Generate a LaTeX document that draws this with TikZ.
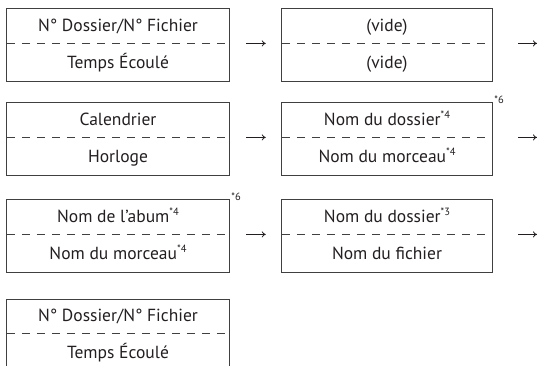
\documentclass[tikz,border=0pt]{standalone}
\usepackage{fontspec}
\setmainfont{PT Sans}
\usetikzlibrary{positioning,arrows.meta}
\definecolor{frame grey}{rgb}{0.25, 0.25, 0.25}
\definecolor{ink}{rgb}{0.1373, 0.1216, 0.1255}
\newcommand{\panelfont}{\fontsize{17.5}{20}\selectfont}
\newcommand{\fnmark}[1]{\raisebox{0.8ex}{\fontsize{10.5}{10}\selectfont *#1}}

\begin{document}
\begin{tikzpicture}[x=1pt, y=-1pt,
		upper/.style={minimum height=34pt, inner sep=0pt, text=ink, font=\panelfont, text height=11.5pt, text depth=0pt},
		lower/.style={upper, minimum height=38pt},
		wide/.style={minimum width=222pt},
		narrow/.style={minimum width=210pt},
		frame/.style={draw=frame grey, line width=1pt},
		divider/.style={draw=frame grey, line width=0.9pt, dash pattern=on 8pt off 7pt},
		nextarrow/.style={draw=ink, line width=0.8pt, -{To[length=4pt, width=6pt]}},
		notemark/.style={inner sep=0pt, text=ink, font=\fontsize{10.5}{10}\selectfont, anchor=west, xshift=2pt, yshift=3pt}]
	\useasboundingbox (0,0) rectangle (538,366);
	\coordinate (edge) at (537,0);
	% row 1
	\node[upper, wide, anchor=north] (num1) at (118,9) {N° Dossier/N° Fichier};
	\node[lower, wide, below=0pt of num1] (time1) {Temps Écoulé};
	\node[upper, narrow, anchor=north] (vide1) at (387,9) {(vide)};
	\node[lower, narrow, below=0pt of vide1] (vide2) {(vide)};
	% row 2
	\node[upper, wide, anchor=north] (cal) at (118,103) {Calendrier};
	\node[lower, wide, below=0pt of cal] (clock) {Horloge};
	\node[upper, narrow, anchor=north] (fold2) at (387,103) {Nom du dossier\fnmark{4}};
	\node[lower, narrow, below=0pt of fold2] (track2) {Nom du morceau\fnmark{4}};
	% row 3
	\node[upper, wide, anchor=north] (album) at (118,200) {Nom de l'abum\fnmark{4}};
	\node[lower, wide, below=0pt of album] (track3) {Nom du morceau\fnmark{4}};
	\node[upper, narrow, anchor=north] (fold3) at (387,200) {Nom du dossier\fnmark{3}};
	\node[lower, narrow, below=0pt of fold3] (file3) {Nom du fichier};
	% row 4
	\node[upper, wide, anchor=north] (num4) at (118,299) {N° Dossier/N° Fichier};
	\node[lower, wide, below=0pt of num4] (time4) {Temps Écoulé};
	% frames and dashed dividers
	\foreach \top/\bot in {num1/time1, vide1/vide2, cal/clock, fold2/track2, album/track3, fold3/file3, num4/time4} {
		\draw[frame] (\top.north west) rectangle (\bot.south east);
		\draw[divider] (\top.south west) -- (\top.south east);
	}
	% notes
	\node[notemark] (note2) at (fold2.north east) {*6};
	\node[notemark] (note3) at (album.north east) {*6};
	% arrows
	\draw[nextarrow] ([xshift=17pt]num1.south east) -- ([xshift=-16pt]vide1.south west);
	\draw[nextarrow] ([xshift=26pt]vide1.south east) -- (edge |- vide1.south);
	\draw[nextarrow] ([xshift=17pt]cal.south east) -- ([xshift=-16pt]fold2.south west);
	\draw[nextarrow] ([xshift=26pt]fold2.south east) -- (edge |- fold2.south);
	\draw[nextarrow] ([xshift=17pt]album.south east) -- ([xshift=-16pt]fold3.south west);
	\draw[nextarrow] ([xshift=26pt]fold3.south east) -- (edge |- fold3.south);
\end{tikzpicture}
\end{document}
